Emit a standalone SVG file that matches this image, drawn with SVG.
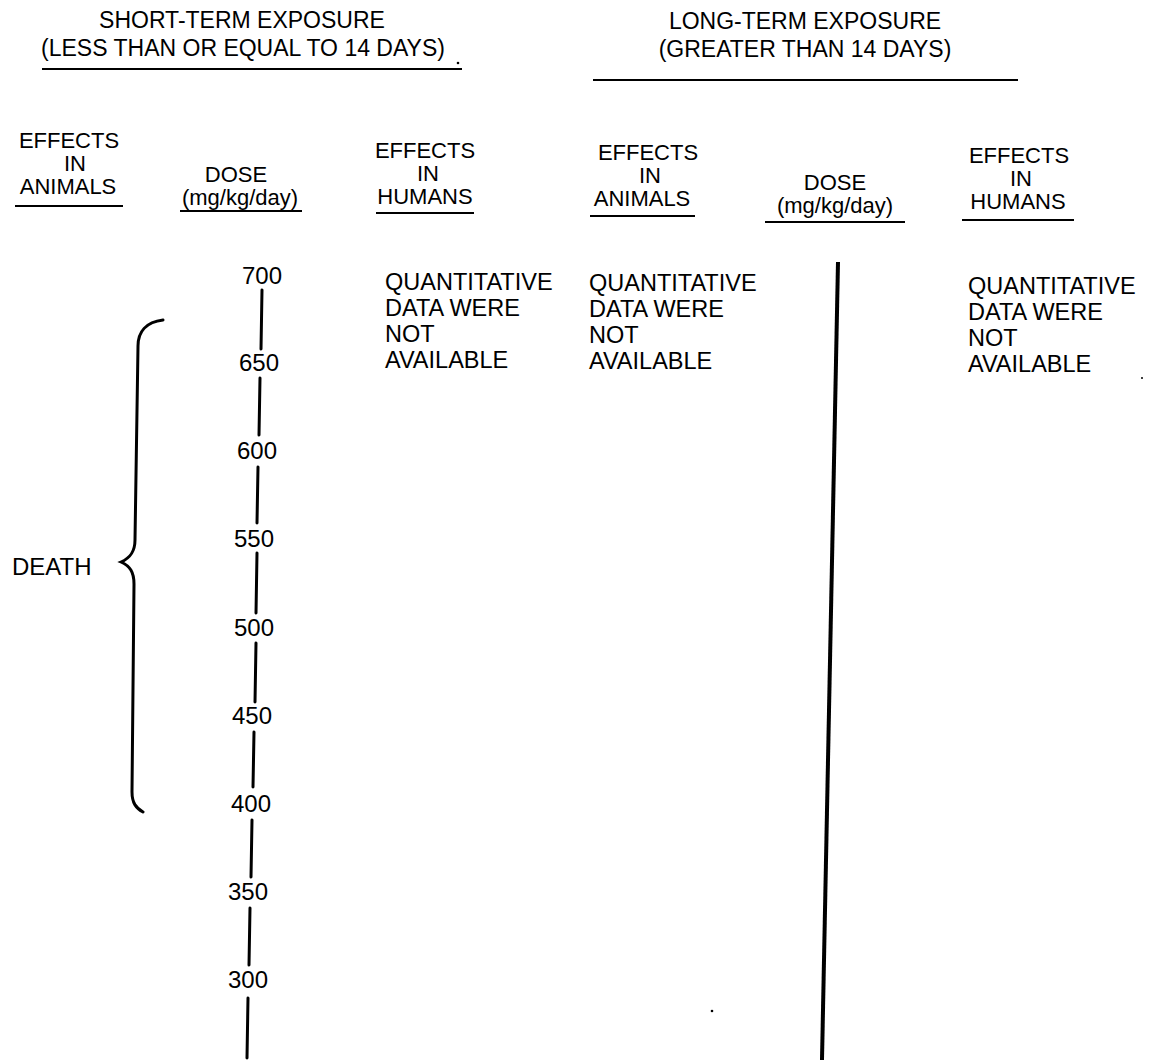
<svg xmlns="http://www.w3.org/2000/svg" width="1158" height="1064" viewBox="0 0 1158 1064">
<style>
text{font-family:"Liberation Sans",Arial,sans-serif;fill:#000}
.h{font-size:23px;text-anchor:middle}
.c{font-size:22px;text-anchor:middle}
.b{font-size:23.5px}
.n{font-size:24px;text-anchor:middle}
.u{stroke:#000;stroke-width:2;fill:none}
.s{stroke:#000;stroke-width:3;fill:none;stroke-linecap:round}
</style>
<rect width="1158" height="1064" fill="#fff"/>
<g id="header-short">
<text class="h" x="242" y="28">SHORT-TERM EXPOSURE</text>
<text class="h" x="243" y="56">(LESS THAN OR EQUAL TO 14 DAYS)</text>
<line class="u" x1="42" y1="69" x2="462" y2="69"/>
<circle cx="458" cy="63" r="1.3"/>
</g>
<g id="header-long">
<text class="h" x="805" y="29">LONG-TERM EXPOSURE</text>
<text class="h" x="805" y="57">(GREATER THAN 14 DAYS)</text>
<line class="u" x1="593" y1="80" x2="1018" y2="80"/>
</g>
<g id="col-short-animals">
<text class="c" x="69" y="148">EFFECTS</text>
<text class="c" x="75" y="171">IN</text>
<text class="c" x="68" y="194">ANIMALS</text>
<line class="u" x1="15" y1="206" x2="123" y2="206"/>
</g>
<g id="col-short-dose">
<text class="c" x="236" y="182">DOSE</text>
<text class="c" x="240" y="205">(mg/kg/day)</text>
<line class="u" x1="180" y1="211" x2="302" y2="211"/>
</g>
<g id="col-short-humans">
<text class="c" x="425" y="158">EFFECTS</text>
<text class="c" x="428" y="181">IN</text>
<text class="c" x="425" y="204">HUMANS</text>
<line class="u" x1="376" y1="213" x2="474" y2="213"/>
</g>
<g id="col-long-animals">
<text class="c" x="648" y="160">EFFECTS</text>
<text class="c" x="650" y="183">IN</text>
<text class="c" x="642" y="206">ANIMALS</text>
<line class="u" x1="590" y1="216" x2="695" y2="216"/>
</g>
<g id="col-long-dose">
<text class="c" x="835" y="190">DOSE</text>
<text class="c" x="835" y="213">(mg/kg/day)</text>
<line class="u" x1="765" y1="222" x2="905" y2="222"/>
</g>
<g id="col-long-humans">
<text class="c" x="1019" y="163">EFFECTS</text>
<text class="c" x="1021" y="186">IN</text>
<text class="c" x="1018" y="209">HUMANS</text>
<line class="u" x1="962" y1="220" x2="1074" y2="220"/>
</g>
<g id="short-humans-note">
<text class="b" x="385" y="290">QUANTITATIVE</text>
<text class="b" x="385" y="316">DATA WERE</text>
<text class="b" x="385" y="342">NOT</text>
<text class="b" x="385" y="368">AVAILABLE</text>
</g>
<g id="long-animals-note">
<text class="b" x="589" y="291">QUANTITATIVE</text>
<text class="b" x="589" y="317">DATA WERE</text>
<text class="b" x="589" y="343">NOT</text>
<text class="b" x="589" y="369">AVAILABLE</text>
</g>
<g id="long-humans-note">
<text class="b" x="968" y="294">QUANTITATIVE</text>
<text class="b" x="968" y="320">DATA WERE</text>
<text class="b" x="968" y="346">NOT</text>
<text class="b" x="968" y="372">AVAILABLE</text>
<circle cx="1142" cy="378" r="1"/>
</g>
<g id="dose-scale-short">
<text class="n" x="262" y="284">700</text>
<text class="n" x="259" y="371">650</text>
<text class="n" x="257" y="459">600</text>
<text class="n" x="254" y="547">550</text>
<text class="n" x="254" y="636">500</text>
<text class="n" x="252" y="724">450</text>
<text class="n" x="251" y="812">400</text>
<text class="n" x="248" y="900">350</text>
<text class="n" x="248" y="988">300</text>
</g>
<g id="death">
<text x="12" y="575" style="font-size:24px">DEATH</text>
</g>
<g id="connectors">
<line class="s" x1="262" y1="290" x2="261" y2="349"/>
<line class="s" x1="260" y1="378" x2="259" y2="435"/>
<line class="s" x1="258" y1="467" x2="257" y2="523"/>
<line class="s" x1="257" y1="553" x2="256" y2="613"/>
<line class="s" x1="256" y1="643" x2="255" y2="702"/>
<line class="s" x1="254" y1="732" x2="253" y2="787"/>
<line class="s" x1="252" y1="820" x2="251" y2="877"/>
<line class="s" x1="250" y1="908" x2="249" y2="965"/>
<line class="s" x1="248" y1="998" x2="247" y2="1058"/>
<path class="s" d="M163,320 C146,322 138,332 138,346 L135,540 C135,552 130,558 121,562 C130,566 134,572 134,584 L132,792 C132,803 136,808 143,812"/>
<line x1="838" y1="262" x2="822" y2="1060" stroke="#000" stroke-width="4"/>
<circle cx="712" cy="1011" r="1.3"/>
</g>
</svg>
